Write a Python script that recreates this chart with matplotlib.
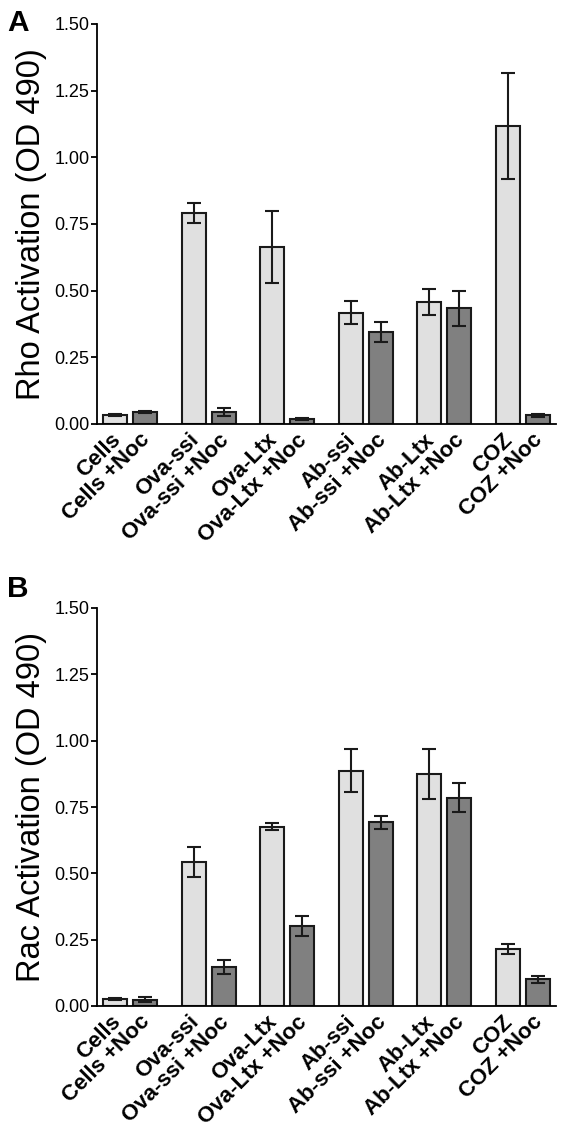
import matplotlib
matplotlib.use("Agg")
import matplotlib.pyplot as plt
import matplotlib.transforms as mtransforms
import numpy as np

plt.rcParams['font.family'] = ['Liberation Sans', 'DejaVu Sans']

groups = ['Cells', 'Ova-ssi', 'Ova-Ltx', 'Ab-ssi', 'Ab-Ltx', 'COZ']
labels = []
for g in groups:
    labels += [g, g + ' +Noc']

# Rho activation (panel A): control, +Noc
rho = [0.034, 0.045, 0.790, 0.045, 0.662, 0.019, 0.417, 0.344, 0.457, 0.434, 1.117, 0.033]
rho_err = [0.004, 0.004, 0.037, 0.014, 0.135, 0.003, 0.043, 0.038, 0.050, 0.065, 0.200, 0.006]

# Rac activation (panel B)
rac = [0.026, 0.024, 0.542, 0.146, 0.676, 0.302, 0.887, 0.692, 0.874, 0.785, 0.214, 0.100]
rac_err = [0.003, 0.010, 0.056, 0.027, 0.013, 0.039, 0.082, 0.025, 0.095, 0.054, 0.019, 0.012]

light = '#e0e0e0'
dark = '#808080'

fig = plt.figure(figsize=(5.66, 11.42), dpi=100)

gstep = 2.62
xpos = []
for i in range(len(groups)):
    xpos += [i * gstep, i * gstep + 1.0]
xpos = np.array(xpos)
colors = [light, dark] * len(groups)


def panel(ax, vals, errs, ylabel):
    ax.bar(xpos, vals, width=0.8, color=colors, edgecolor='#1a1a1a', linewidth=1.5, zorder=2)
    ax.errorbar(xpos, vals, yerr=errs, fmt='none', ecolor='#1a1a1a', elinewidth=1.5,
                capsize=5, capthick=1.5, zorder=3)
    ax.set_xlim(-0.63, xpos[-1] + 0.6)
    ax.set_ylim(0, 1.5)
    ax.set_yticks(np.arange(0, 1.51, 0.25))
    ax.set_yticklabels(['%.2f' % v for v in np.arange(0, 1.51, 0.25)], fontsize=13)
    ax.spines['top'].set_visible(False)
    ax.spines['right'].set_visible(False)
    ax.spines['left'].set_linewidth(1.3)
    ax.spines['bottom'].set_linewidth(1.3)
    ax.tick_params(axis='y', length=4, width=1.3, pad=1)
    ax.set_xticks(xpos)
    ax.set_xticklabels(labels, rotation=45, ha='right', rotation_mode='anchor',
                       fontsize=16, fontweight='bold')
    ax.tick_params(axis='x', length=0, pad=4)
    shift = mtransforms.ScaledTranslation(-4 / 72, 0, fig.dpi_scale_trans)
    for lab in ax.get_xticklabels():
        lab.set_transform(lab.get_transform() + shift)
    ax.set_ylabel(ylabel, fontsize=23.5, labelpad=5)


axA = fig.add_axes([0.1705, 1 - 424 / 1142, 0.982 - 0.1705, 400 / 1142])
panel(axA, rho, rho_err, 'Rho Activation (OD 490)')
axB = fig.add_axes([0.1705, 1 - 1006 / 1142, 0.982 - 0.1705, 398 / 1142])
panel(axB, rac, rac_err, 'Rac Activation (OD 490)')

fig.text(0.013, 1 - 31 / 1142, 'A', fontsize=21.5, fontweight='bold', va='baseline')
fig.text(0.013, 1 - 597 / 1142, 'B', fontsize=21.5, fontweight='bold', va='baseline')

plt.savefig('out.png', dpi=100)
